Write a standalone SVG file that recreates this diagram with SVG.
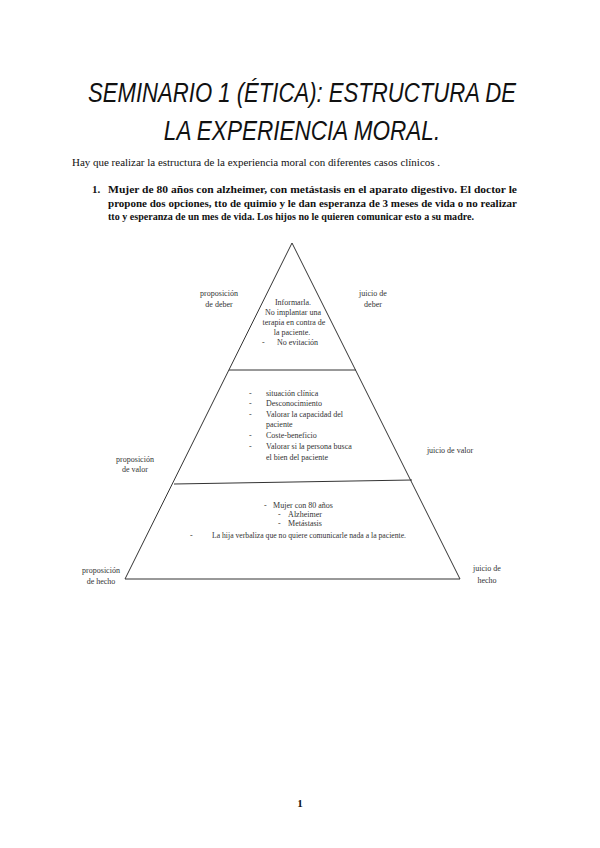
<svg xmlns="http://www.w3.org/2000/svg" width="600" height="848" viewBox="0 0 600 848">
<style>
.title{font-family:"Liberation Sans",sans-serif;font-style:italic;font-size:28px;fill:#111;}
.body{font-family:"Liberation Serif",serif;font-size:11px;fill:#111;}
.bold{font-family:"Liberation Serif",serif;font-size:11px;font-weight:bold;fill:#111;}
.sm{font-family:"Liberation Serif",serif;font-size:8px;fill:#333;}
.ln{stroke:#333;stroke-width:1;fill:none;}
</style>
<rect width="600" height="848" fill="#fff"/>
<g id="title">
<text class="title" transform="translate(302,102) scale(0.79,1)" x="0" y="0" text-anchor="middle">SEMINARIO 1 (ÉTICA): ESTRUCTURA DE</text>
<text class="title" transform="translate(302,140) scale(0.805,1)" x="0" y="0" text-anchor="middle">LA EXPERIENCIA MORAL.</text>
</g>
<g id="intro">
<text class="body" x="72" y="166" textLength="368" lengthAdjust="spacingAndGlyphs">Hay que realizar la estructura de la experiencia moral con diferentes casos clínicos .</text>
</g>
<g id="case1">
<text class="bold" x="92" y="193">1.</text>
<text class="bold" x="108" y="193" textLength="409" lengthAdjust="spacingAndGlyphs">Mujer de 80 años con alzheimer, con metástasis en el aparato digestivo. El doctor le</text>
<text class="bold" x="108" y="206.5" textLength="409" lengthAdjust="spacingAndGlyphs">propone dos opciones, tto de quimio y le dan esperanza de 3 meses de vida o no realizar</text>
<text class="bold" x="108" y="220" textLength="366" lengthAdjust="spacingAndGlyphs">tto y esperanza de un mes de vida. Los hijos no le quieren comunicar esto a su madre.</text>
</g>
<g id="connectors">
<path class="ln" d="M292 243 L125 579 L460 579 Z"/>
<line class="ln" x1="229" y1="370" x2="356" y2="370"/>
<line class="ln" x1="174" y1="484" x2="412" y2="480"/>
</g>
<g id="top-level">
<text class="sm" x="293" y="305" text-anchor="middle">Informarla.</text>
<text class="sm" x="293" y="315" text-anchor="middle">No implantar una</text>
<text class="sm" x="294" y="325" text-anchor="middle">terapia en contra de</text>
<text class="sm" x="292" y="335" text-anchor="middle">la paciente.</text>
<text class="sm" x="262" y="345">-</text>
<text class="sm" x="277" y="345">No evitación</text>
</g>
<g id="mid-level">
<text class="sm" x="249" y="396">-</text><text class="sm" x="266" y="396">situación clínica</text>
<text class="sm" x="249" y="406">-</text><text class="sm" x="266" y="406">Desconocimiento</text>
<text class="sm" x="249" y="417">-</text><text class="sm" x="266" y="417">Valorar la capacidad del</text>
<text class="sm" x="266" y="427">paciente</text>
<text class="sm" x="249" y="438">-</text><text class="sm" x="266" y="438">Coste-beneficio</text>
<text class="sm" x="249" y="449">-</text><text class="sm" x="266" y="449">Valorar si la persona busca</text>
<text class="sm" x="266" y="460">el bien del paciente</text>
</g>
<g id="base-level">
<text class="sm" x="264" y="508">-</text><text class="sm" x="303" y="508" text-anchor="middle">Mujer con 80 años</text>
<text class="sm" x="278" y="517">-</text><text class="sm" x="305" y="517" text-anchor="middle">Alzheimer</text>
<text class="sm" x="278" y="526">-</text><text class="sm" x="305" y="526" text-anchor="middle">Metástasis</text>
<text class="sm" x="190" y="538">-</text><text class="sm" x="212" y="538" textLength="194" lengthAdjust="spacingAndGlyphs">La hija verbaliza que no quiere comunicarle nada a la paciente.</text>
</g>
<g id="labels">
<text class="sm" x="219" y="296" text-anchor="middle">proposición</text>
<text class="sm" x="219" y="307" text-anchor="middle">de deber</text>
<text class="sm" x="373" y="296" text-anchor="middle">juicio de</text>
<text class="sm" x="373" y="307" text-anchor="middle">deber</text>
<text class="sm" x="135" y="462" text-anchor="middle">proposición</text>
<text class="sm" x="135" y="472" text-anchor="middle">de valor</text>
<text class="sm" x="450" y="453" text-anchor="middle">juicio de valor</text>
<text class="sm" x="101" y="573" text-anchor="middle">proposición</text>
<text class="sm" x="101" y="584" text-anchor="middle">de hecho</text>
<text class="sm" x="487" y="571" text-anchor="middle">juicio de</text>
<text class="sm" x="487" y="583" text-anchor="middle">hecho</text>
</g>
<g id="page">
<text class="bold" x="300" y="807" text-anchor="middle" font-size="13">1</text>
</g>
</svg>
